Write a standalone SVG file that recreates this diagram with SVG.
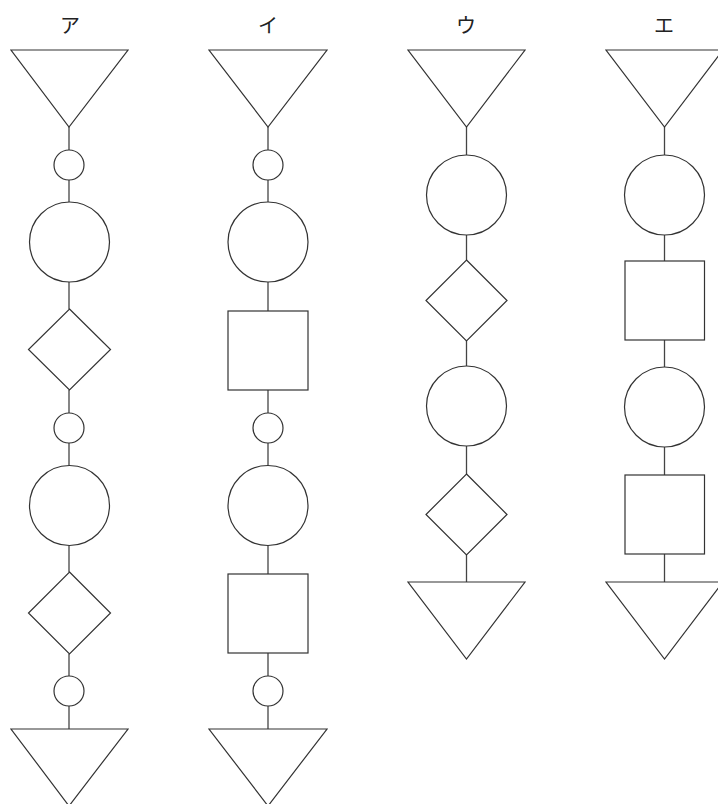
<svg xmlns="http://www.w3.org/2000/svg" width="718" height="804" viewBox="0 0 718 804">
<style>
.s{fill:#fff;stroke:#333;stroke-width:1.2}
.c line{stroke:#444;stroke-width:1.3}
.t{font-family:"Noto Sans CJK JP","Noto Sans CJK SC",sans-serif;font-size:20px;fill:#222;text-anchor:middle}
</style>
<rect width="718" height="804" fill="#fff"/>
<g id="connectors" class="c">
<line x1="69" y1="127" x2="69" y2="150"/>
<line x1="69" y1="180" x2="69" y2="202"/>
<line x1="69" y1="282" x2="69" y2="309"/>
<line x1="69" y1="390" x2="69" y2="413"/>
<line x1="69" y1="443" x2="69" y2="466"/>
<line x1="69" y1="545" x2="69" y2="572"/>
<line x1="69" y1="654" x2="69" y2="676"/>
<line x1="69" y1="706" x2="69" y2="729"/>
<line x1="268" y1="127" x2="268" y2="150"/>
<line x1="268" y1="180" x2="268" y2="202"/>
<line x1="268" y1="282" x2="268" y2="311"/>
<line x1="268" y1="390" x2="268" y2="413"/>
<line x1="268" y1="443" x2="268" y2="466"/>
<line x1="268" y1="545" x2="268" y2="574"/>
<line x1="268" y1="653" x2="268" y2="676"/>
<line x1="268" y1="706" x2="268" y2="729"/>
<line x1="466.5" y1="127" x2="466.5" y2="155"/>
<line x1="466.5" y1="235" x2="466.5" y2="260"/>
<line x1="466.5" y1="341" x2="466.5" y2="366"/>
<line x1="466.5" y1="446" x2="466.5" y2="474"/>
<line x1="466.5" y1="555" x2="466.5" y2="582"/>
<line x1="664.5" y1="127" x2="664.5" y2="155"/>
<line x1="664.5" y1="235" x2="664.5" y2="261"/>
<line x1="664.5" y1="340" x2="664.5" y2="367"/>
<line x1="664.5" y1="447" x2="664.5" y2="475"/>
<line x1="664.5" y1="554" x2="664.5" y2="582"/>
</g>
<g id="label-a"><text class="t" x="70" y="33">ア</text></g>
<g id="label-i"><text class="t" x="268" y="33">イ</text></g>
<g id="label-u"><text class="t" x="466" y="33">ウ</text></g>
<g id="label-e"><text class="t" x="664" y="33">エ</text></g>
<!-- Column ア -->
<g id="a-tri-top"><polygon class="s" points="11,50 128,50 69,127"/></g>
<g id="a-c1"><circle class="s" cx="69" cy="165" r="15"/></g>
<g id="a-C1"><circle class="s" cx="69.5" cy="242" r="40"/></g>
<g id="a-d1"><polygon class="s" points="69.5,309 110.5,349.5 69.5,390 28.5,349.5"/></g>
<g id="a-c2"><circle class="s" cx="69" cy="428" r="15"/></g>
<g id="a-C2"><circle class="s" cx="69.5" cy="505.5" r="40"/></g>
<g id="a-d2"><polygon class="s" points="69.5,572 110.5,613 69.5,654 28.5,613"/></g>
<g id="a-c3"><circle class="s" cx="69" cy="691" r="15"/></g>
<g id="a-tri-bot"><polygon class="s" points="11,729 128,729 69,806"/></g>
<!-- Column イ -->
<g id="i-tri-top"><polygon class="s" points="209,50 327,50 268,127"/></g>
<g id="i-c1"><circle class="s" cx="268" cy="165" r="15"/></g>
<g id="i-C1"><circle class="s" cx="268" cy="242" r="40"/></g>
<g id="i-sq1"><rect class="s" x="228" y="311" width="80" height="79"/></g>
<g id="i-c2"><circle class="s" cx="268" cy="428" r="15"/></g>
<g id="i-C2"><circle class="s" cx="268" cy="505.5" r="40"/></g>
<g id="i-sq2"><rect class="s" x="228" y="574" width="80" height="79"/></g>
<g id="i-c3"><circle class="s" cx="268" cy="691" r="15"/></g>
<g id="i-tri-bot"><polygon class="s" points="209,729 327,729 268,806"/></g>
<!-- Column ウ -->
<g id="u-tri-top"><polygon class="s" points="408,50 525,50 466.5,127"/></g>
<g id="u-C1"><circle class="s" cx="466.5" cy="195" r="40"/></g>
<g id="u-d1"><polygon class="s" points="466.5,260 507,300.5 466.5,341 426,300.5"/></g>
<g id="u-C2"><circle class="s" cx="466.5" cy="406" r="40"/></g>
<g id="u-d2"><polygon class="s" points="466.5,474 507,514.5 466.5,555 426,514.5"/></g>
<g id="u-tri-bot"><polygon class="s" points="408,582 525,582 466.5,659"/></g>
<!-- Column エ -->
<g id="e-tri-top"><polygon class="s" points="606,50 723,50 664.5,127"/></g>
<g id="e-C1"><circle class="s" cx="664.5" cy="195" r="40"/></g>
<g id="e-sq1"><rect class="s" x="625" y="261" width="79.5" height="79"/></g>
<g id="e-C2"><circle class="s" cx="664.5" cy="407" r="40"/></g>
<g id="e-sq2"><rect class="s" x="625" y="475" width="79.5" height="79"/></g>
<g id="e-tri-bot"><polygon class="s" points="606,582 723,582 664.5,659"/></g>
</svg>
